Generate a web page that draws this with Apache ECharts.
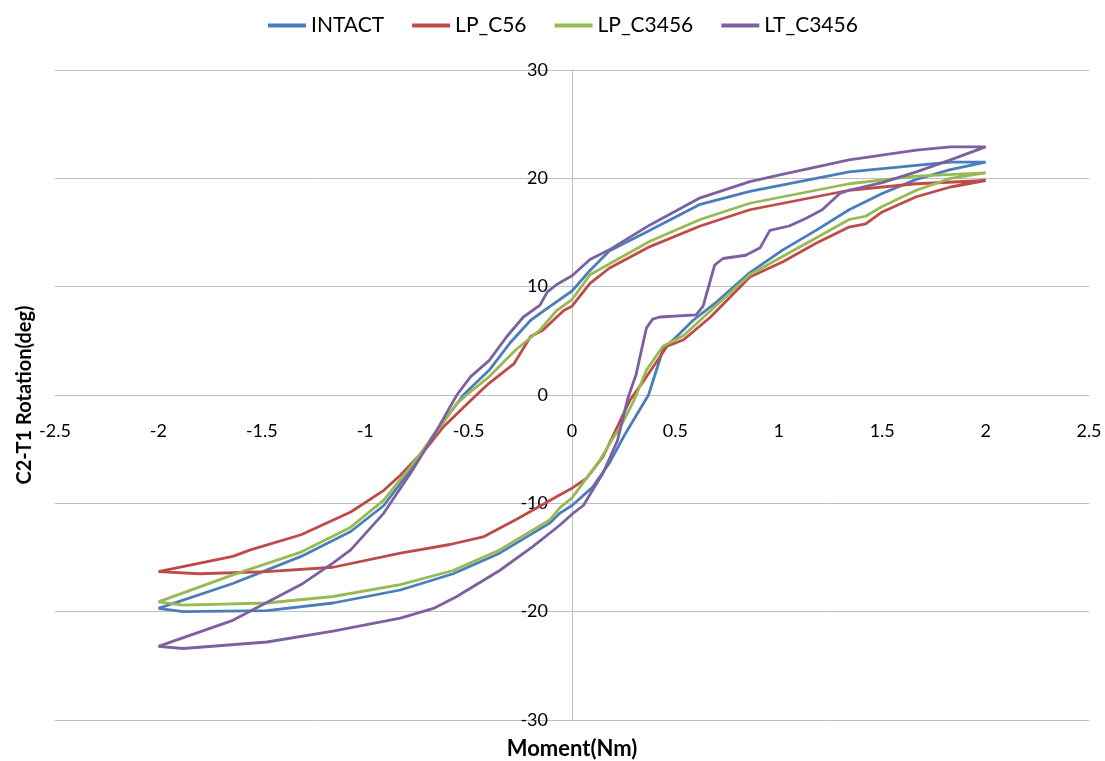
<!DOCTYPE html>
<html><head><meta charset="utf-8">
<script src="https://cdn.jsdelivr.net/npm/echarts@6/dist/echarts.min.js"></script>
<style>html,body{margin:0;padding:0;background:#fff}#c{width:1105px;height:761px}</style>
</head><body><div id="c"></div>
<script>
// Moment (Nm) vs C2-T1 rotation (deg): loading branch from -2 to 2, then unloading back to -2
const seriesNames = ['INTACT', 'LP_C56', 'LP_C3456', 'LT_C3456'];
const xAxisTitle = 'Moment(Nm)';
const yAxisTitle = 'C2-T1 Rotation(deg)';

const intact = [
  [-2,-19.7],[-1.88,-20.0],[-1.475,-19.9],[-1.155,-19.2],[-0.83,-18.0],[-0.575,-16.5],[-0.35,-14.6],
  [-0.106,-11.8],[-0.058,-10.9],[0,-10.2],[0.10,-8.5],[0.18,-6.3],[0.26,-3.5],[0.37,0],[0.40,1.8],
  [0.44,4.2],[0.506,5.4],[0.586,6.9],[0.70,8.6],[0.86,11.3],[1.02,13.4],[1.18,15.2],[1.34,17.1],
  [1.50,18.6],[1.665,19.9],[1.83,20.8],[2,21.5],
  [1.83,21.5],[1.665,21.2],[1.34,20.6],[1.10,19.7],[0.86,18.8],[0.62,17.6],[0.377,15.2],[0.18,13.3],
  [0.087,11.5],[0,9.6],[-0.12,8.0],[-0.20,6.9],[-0.30,4.8],[-0.40,2.3],[-0.525,0],[-0.67,-3.7],
  [-0.78,-6.9],[-0.91,-10.2],[-1.07,-12.6],[-1.31,-14.9],[-1.64,-17.4],[-2,-19.7]
];
const lpC56 = [
  [-2,-16.3],[-1.80,-16.5],[-1.475,-16.3],[-1.155,-15.9],[-0.83,-14.6],[-0.59,-13.8],[-0.43,-13.1],
  [-0.27,-11.5],[-0.058,-9.2],[0,-8.6],[0.07,-7.7],[0.15,-5.7],[0.28,-0.5],[0.35,1.4],[0.46,4.5],
  [0.54,5.1],[0.67,7.2],[0.86,10.9],[1.02,12.3],[1.18,14.0],[1.34,15.5],[1.42,15.8],[1.50,16.9],
  [1.665,18.3],[1.83,19.2],[2,19.8],
  [1.665,19.5],[1.34,18.9],[0.86,17.1],[0.62,15.6],[0.377,13.7],[0.18,11.7],[0.087,10.3],[0,8.2],
  [-0.04,7.8],[-0.14,6.0],[-0.20,5.4],[-0.28,2.9],[-0.40,1.1],[-0.49,-0.5],[-0.62,-2.9],[-0.70,-4.8],
  [-0.83,-7.4],[-0.91,-8.8],[-1.07,-10.8],[-1.31,-12.9],[-1.555,-14.3],[-1.64,-14.9],[-2,-16.3]
];
const lpC3456 = [
  [-2,-19.1],[-1.88,-19.4],[-1.475,-19.2],[-1.155,-18.6],[-0.83,-17.5],[-0.575,-16.2],[-0.35,-14.3],
  [-0.106,-11.5],[-0.058,-10.4],[0,-9.5],[0.135,-6.0],[0.208,-3.7],[0.23,-3.1],[0.30,-0.5],[0.36,2.3],
  [0.44,4.5],[0.54,5.5],[0.70,8.3],[0.86,11.1],[1.02,12.8],[1.18,14.5],[1.34,16.2],[1.42,16.5],
  [1.50,17.4],[1.665,18.9],[1.83,20.0],[2,20.5],
  [1.665,20.2],[1.34,19.5],[0.86,17.7],[0.62,16.2],[0.377,14.2],[0.18,12.1],[0.087,11.1],[0,8.8],
  [-0.074,7.8],[-0.155,6.0],[-0.27,4.2],[-0.40,1.7],[-0.51,0],[-0.557,-0.8],[-0.67,-3.8],[-0.78,-6.6],
  [-0.91,-9.7],[-1.07,-12.2],[-1.31,-14.5],[-1.64,-16.6],[-2,-19.1]
];
const ltC3456 = [
  [-2,-23.2],[-1.88,-23.4],[-1.475,-22.8],[-1.155,-21.8],[-0.83,-20.6],[-0.67,-19.7],[-0.557,-18.6],
  [-0.35,-16.2],[-0.19,-14.0],[-0.058,-12.0],[0,-11.0],[0.055,-10.2],[0.15,-7.2],[0.22,-4.2],
  [0.27,-0.3],[0.31,1.9],[0.36,6.2],[0.39,7.0],[0.425,7.2],[0.60,7.4],[0.634,8.2],[0.69,12.0],
  [0.73,12.6],[0.84,12.9],[0.91,13.6],[0.957,15.2],[1.05,15.6],[1.13,16.3],[1.21,17.1],[1.295,18.6],
  [1.34,18.9],[1.50,19.6],[1.665,20.6],[1.83,21.7],[2,22.9],
  [1.83,22.9],[1.665,22.6],[1.34,21.7],[1.0,20.3],[0.86,19.7],[0.62,18.2],[0.377,15.7],[0.18,13.4],
  [0.087,12.5],[0,11.0],[-0.074,10.2],[-0.12,9.5],[-0.155,8.3],[-0.235,7.2],[-0.315,5.4],[-0.40,3.2],
  [-0.49,1.7],[-0.557,0],[-0.67,-3.8],[-0.78,-7.2],[-0.91,-10.9],[-1.07,-14.3],[-1.155,-15.5],
  [-1.31,-17.5],[-1.64,-20.8],[-2,-23.2]
];
const seriesData = [intact, lpC56, lpC3456, ltC3456];
const colors = ['#4a7ebb', '#be4b48', '#98b954', '#7d60a0'];

const X_MIN = -2.5, X_MAX = 2.5, X_STEP = 0.5;
const Y_MIN = -30, Y_MAX = 30, Y_STEP = 10;

const W = 1105, H = 761;
const GRID = {left: 55, right: 16, top: 70, bottom: 41};
const gridW = W - GRID.left - GRID.right;
const gridH = H - GRID.top - GRID.bottom;
// shift axes so they cross at the origin (labels travel with them)
const yAxisOffset = -gridW * (0 - X_MIN) / (X_MAX - X_MIN);
const xAxisOffset = -gridH * (0 - Y_MIN) / (Y_MAX - Y_MIN);

const FONT = 'Lato, "Open Sans", sans-serif';
const chart = echarts.init(document.getElementById('c'), null, {renderer: 'canvas'});
chart.setOption({
  animation: false,
  color: colors,
  legend: {
    top: 10, left: 263,
    icon: 'rect', itemWidth: 38, itemHeight: 4, itemGap: 28,
    textStyle: {fontFamily: FONT, fontSize: 21, color: '#000'},
    data: seriesNames
  },
  grid: Object.assign({containLabel: false, outerBoundsMode: 'none'}, GRID),
  xAxis: [{
    type: 'value', min: X_MIN, max: X_MAX, interval: X_STEP, position: 'bottom', offset: xAxisOffset,
    axisLine: {show: true, onZero: false, lineStyle: {color: '#bfbfbf', width: 1}},
    axisTick: {show: false},
    axisLabel: {margin: 27, fontFamily: FONT, fontSize: 18, color: '#000', showMinLabel: true, showMaxLabel: true},
    splitLine: {show: false}
  }, {
    type: 'value', position: 'bottom', min: X_MIN, max: X_MAX,
    axisLine: {show: false, onZero: false}, axisTick: {show: false}, axisLabel: {show: false}, splitLine: {show: false},
    name: xAxisTitle, nameLocation: 'middle', nameGap: 18,
    nameTextStyle: {fontFamily: FONT, fontSize: 22, fontWeight: 'bold', color: '#000'}
  }],
  yAxis: [{
    type: 'value', min: Y_MIN, max: Y_MAX, interval: Y_STEP, position: 'left', offset: yAxisOffset,
    axisLine: {show: true, onZero: false, lineStyle: {color: '#bfbfbf', width: 1}},
    axisTick: {show: false},
    axisLabel: {margin: 24, fontFamily: FONT, fontSize: 18, color: '#000', showMinLabel: true, showMaxLabel: true},
    splitLine: {show: true, lineStyle: {color: '#bfbfbf', width: 1}}
  }, {
    type: 'value', position: 'left', min: Y_MIN, max: Y_MAX,
    axisLine: {show: false, onZero: false}, axisTick: {show: false}, axisLabel: {show: false}, splitLine: {show: false},
    name: yAxisTitle, nameLocation: 'middle', nameGap: 20,
    nameTextStyle: {fontFamily: FONT, fontSize: 20, fontWeight: 'bold', color: '#000'}
  }],
  series: seriesNames.map((n, i) => ({
    name: n, type: 'line', xAxisIndex: 0, yAxisIndex: 0,
    data: seriesData[i], showSymbol: false, symbol: 'none',
    lineStyle: {width: 2.8, color: colors[i]}, itemStyle: {color: colors[i]}
  }))
});
</script>
</body></html>
